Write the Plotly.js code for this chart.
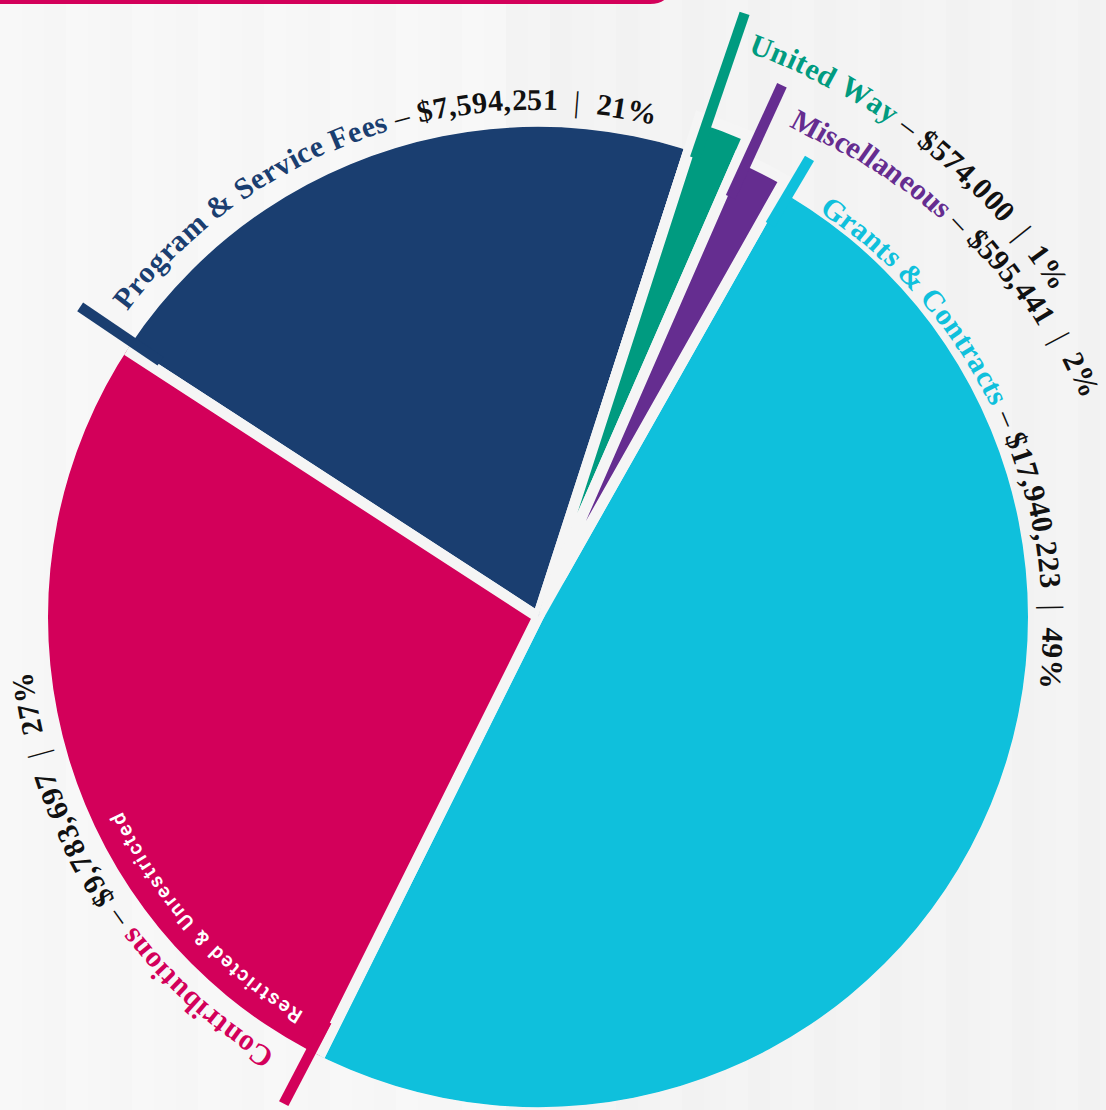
<!DOCTYPE html>
<html>
<head>
<meta charset="utf-8">
<script src="https://cdn.plot.ly/plotly-3.0.1.min.js"></script>
<style>
  html, body { margin: 0; padding: 0; background: #f5f5f5; }
  #chart { width: 1106px; height: 1110px; }
</style>
</head>
<body>
<div id="chart"></div>
<script>
// ---------------- data ----------------
const categories = ['Program & Service Fees', 'United Way', 'Miscellaneous', 'Grants & Contracts', 'Contributions'];
const amounts = [7594251, 574000, 595441, 17940223, 9783697];
const percentLabels = ['21%', '1%', '2%', '49%', '27%'];
const subLabels = ['', '', '', '', 'Restricted & Unrestricted'];

// ---------------- styles / layout ----------------
const W = 1106, H = 1110;
const CX = 538, CY = 617, R0 = 490;
const START_ANGLE = 303;           // clockwise from 12 o'clock
const BG = '#f5f5f5';
const GAP = 11;
const TICK_W = 10.5;
const colors = ['#1a3e70', '#009b80', '#652d90', '#0fc0dc', '#d3005a'];
const sliceR = [496, 525, 502, 496, 496];
const tickR = [553, 638, 585, 533, 549];
const labelArc = [
  { a0: 306.7, a1: 373.3, r0: 523, r1: 516 },
  { a0: 20.4,  a1: 57.7,  r0: 613, r1: 620 },
  { a0: 27.1,  a1: 68.2,  r0: 560, r1: 598 },
  { a0: 34.7,  a1: 98.1,  r0: 504, r1: 517 },
  { a0: 211.1, a1: 263.8, r0: 519, r1: 519 }
];
const subArc = { a0: 210.7, a1: 244.9, r0: 466, r1: 466 };
const SERIF = ['Liberation Serif', 'DejaVu Serif'];
const SANS = ['Roboto', 'Liberation Sans'];
const LABEL_SIZE = 30;
const SUB_SIZE = 20;

// ---------------- derived geometry ----------------
const total = amounts.reduce((a, b) => a + b, 0);
const widths = amounts.map(v => v / total * 360);
const starts = [];
let acc = START_ANGLE;
widths.forEach(w => { starts.push(acc % 360); acc += w; });
const centers = starts.map((s, i) => s + widths[i] / 2);
const tickTheta = starts.map((s, i) => s + (GAP / 2 + TICK_W / 2) / tickR[i] * 180 / Math.PI);

// polar subplots: a full one for the pie, and narrow sectors that let the
// outer ticks / raised slices reach beyond the pie radius
function sectorPolar(th0, th1, R) {
  const common = {
    bgcolor: 'rgba(0,0,0,0)',
    angularaxis: { visible: false, rotation: 90, direction: 'clockwise', thetaunit: 'degrees' }
  };
  if (th0 === null) {
    return Object.assign({
      domain: { x: [(CX - R) / W, (CX + R) / W], y: [1 - (CY + R) / H, 1 - (CY - R) / H] },
      radialaxis: { visible: false, range: [0, R] }
    }, common);
  }
  const s0 = 90 - th1, s1 = 90 - th0;
  const xs = [0, Math.cos(s0 * Math.PI / 180), Math.cos(s1 * Math.PI / 180)];
  const ys = [0, Math.sin(s0 * Math.PI / 180), Math.sin(s1 * Math.PI / 180)];
  const bx0 = Math.min(...xs), bx1 = Math.max(...xs), by0 = Math.min(...ys), by1 = Math.max(...ys);
  let Rm = R;
  if (bx0 < 0) Rm = Math.min(Rm, (CX - 0.5) / -bx0);
  if (bx1 > 0) Rm = Math.min(Rm, (W - CX - 0.5) / bx1);
  if (by1 > 0) Rm = Math.min(Rm, (CY - 0.5) / by1);
  if (by0 < 0) Rm = Math.min(Rm, (H - CY - 0.5) / -by0);
  return Object.assign({
    sector: [s0, s1],
    domain: {
      x: [(CX + Rm * bx0) / W, (CX + Rm * bx1) / W],
      y: [1 - (CY - Rm * by0) / H, 1 - (CY - Rm * by1) / H]
    },
    radialaxis: { visible: false, range: [0, Rm] }
  }, common);
}

const traces = [{
  type: 'barpolar', subplot: 'polar',
  r: sliceR, theta: centers, width: widths, text: categories,
  marker: { color: colors, line: { color: BG, width: GAP } },
  hoverinfo: 'skip', showlegend: false
}, {
  // United Way and Miscellaneous are raised above the pie
  type: 'barpolar', subplot: 'polar2',
  r: [sliceR[1], sliceR[2]], theta: [centers[1], centers[2]], width: [widths[1], widths[2]],
  marker: { color: [colors[1], colors[2]], line: { color: BG, width: GAP } },
  hoverinfo: 'skip', showlegend: false
}];

const tickSubplot = ['polar3', 'polar2', 'polar2', 'polar2', 'polar4'];
amounts.forEach((v, i) => {
  traces.push({
    type: 'scatterpolar', mode: 'lines', subplot: tickSubplot[i],
    r: [sliceR[i] - 40, tickR[i]], theta: [tickTheta[i], tickTheta[i]],
    line: { color: colors[i], width: TICK_W },
    hoverinfo: 'skip', showlegend: false
  });
});

// ---------------- curved text ----------------
const ctx = document.createElement('canvas').getContext('2d');
function esc(ch) { return ch === '&' ? '&amp;' : (ch === '<' ? '&lt;' : ch); }
function cssFam(f) { return f.map(n => `"${n}"`).join(', '); }
function arcText(segments, cfg) {
  const chars = [];
  segments.forEach(seg => {
    for (const ch of seg.text) {
      ctx.font = `${seg.weight} ${seg.size}px ${cssFam(seg.family)}`;
      chars.push({ ch, seg, w: ctx.measureText(ch).width });
    }
  });
  const natural = chars.reduce((s, c) => s + c.w, 0);
  const rMid = (cfg.r0 + cfg.r1) / 2;
  const span = (cfg.a1 - cfg.a0) * Math.PI / 180 * rMid;
  const track = (span - natural) / (chars.length - 1);
  const out = [];
  let s = 0;
  chars.forEach(c => {
    const sc = s + c.w / 2;
    s += c.w + track;
    if (c.ch.trim() === '') return;
    const frac = sc / span;
    const r = cfg.r0 + (cfg.r1 - cfg.r0) * frac;
    const ang = cfg.a0 + sc / rMid * 180 / Math.PI;
    const t = ang * Math.PI / 180;
    const px = CX + r * Math.sin(t), py = CY - r * Math.cos(t);
    let ta = ((ang % 360) + 360) % 360; if (ta > 180) ta -= 360;
    out.push({
      xref: 'paper', yref: 'paper', x: px / W, y: 1 - py / H,
      text: esc(c.ch), showarrow: false, textangle: ta,
      xanchor: 'center', yanchor: 'middle', borderpad: 0,
      font: { family: c.seg.family.join(', '), size: c.seg.size, color: c.seg.color, weight: c.seg.weight }
    });
  });
  return out;
}

let annotations = [];
categories.forEach((name, i) => {
  const amt = '$' + amounts[i].toLocaleString('en-US');
  const segs = [
    { text: name, color: colors[i], weight: 700, size: LABEL_SIZE, family: SERIF },
    { text: ' \u2013 ', color: '#111', weight: 400, size: LABEL_SIZE, family: SERIF },
    { text: amt, color: '#111', weight: 700, size: LABEL_SIZE, family: SERIF },
    { text: '\u2002|\u2002', color: '#111', weight: 400, size: LABEL_SIZE, family: SERIF },
    { text: percentLabels[i], color: '#111', weight: 700, size: LABEL_SIZE, family: SERIF }
  ];
  annotations = annotations.concat(arcText(segs, labelArc[i]));
  if (subLabels[i]) {
    annotations = annotations.concat(arcText([
      { text: subLabels[i], color: '#ffffff', weight: 600, size: SUB_SIZE, family: SANS }
    ], subArc));
  }
});

// ---------------- background decoration ----------------
function P(px, py) { return `${px / W},${1 - py / H}`; }
const shapes = [];
const stripeCols = ['#f8f8f8', '#f4f4f4', '#f7f7f7', '#f2f2f2', '#f6f6f6', '#f3f3f3'];
for (let i = 0, x = 0; x < W; i++, x += 22) {
  const shade = x < 500 ? 0 : 1;
  shapes.push({
    type: 'rect', xref: 'paper', yref: 'paper', layer: 'below',
    x0: x / W, x1: (x + 22) / W, y0: 0, y1: 1,
    fillcolor: stripeCols[(i * 2 + shade) % stripeCols.length], line: { width: 0 }
  });
}
shapes.push({
  type: 'path', xref: 'paper', yref: 'paper', layer: 'above',
  path: `M ${P(-20, 1.5)} L ${P(650, 1.5)} Q ${P(668, 1.5)} ${P(668, -16)}`,
  line: { color: '#d3005a', width: 5 }
});

const layout = {
  width: W, height: H,
  margin: { l: 0, r: 0, t: 0, b: 0 },
  paper_bgcolor: BG,
  showlegend: false,
  polar: sectorPolar(null, null, R0),
  polar2: sectorPolar(16.5, 36.5, 640),
  polar3: sectorPolar(299, 308.5, 560),
  polar4: sectorPolar(206.9, 211, 552),
  annotations,
  shapes
};

Plotly.newPlot('chart', traces, layout, { staticPlot: true, displayModeBar: false });
</script>
</body>
</html>
